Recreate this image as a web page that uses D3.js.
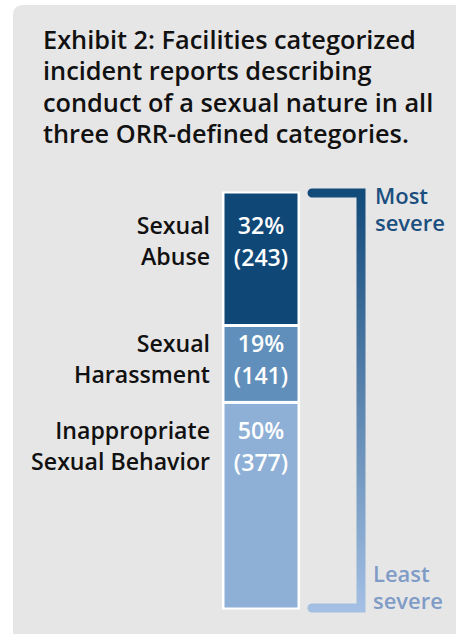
<!DOCTYPE html>
<html><head><meta charset="utf-8">
<script src="https://cdn.jsdelivr.net/npm/d3@7"></script>
<style>
html,body{margin:0;padding:0;background:#fff;}
svg{display:block;}
text{font-family:"Open Sans","Noto Sans",sans-serif;font-weight:600;}
</style></head>
<body>
<svg id="c" width="456" height="634"></svg>
<script>
const titleLines = ["Exhibit 2: Facilities categorized","incident reports describing","conduct of a sexual nature in all","three ORR-defined categories."];
const categories = [["Sexual","Abuse"],["Sexual","Harassment"],["Inappropriate","Sexual Behavior"]];
const percents = ["32%","19%","50%"];
const counts = [243,141,377];
const colors = ["#0f4777","#5f8fba","#8eb0d6"];
const severityTop = ["Most","severe"];
const severityBottom = ["Least","severe"];

const svg = d3.select("#c");
svg.append("path").attr("d","M13,634 L13,15 Q13,5 23,5 L456,5 L456,634 Z").attr("fill","#e7e6e6");

// fit text to a target width
function fit(sel, w){ sel.each(function(){ const l=this.getComputedTextLength(); const fs=+this.getAttribute("font-size"); this.setAttribute("font-size",fs*w/l); }); }

const tt = svg.append("g").selectAll("text").data(titleLines).join("text")
  .attr("x",43).attr("y",(d,i)=>49+i*31.3)
  .attr("font-size",24).attr("fill","#111").text(d=>d);
const titleSize = (function(){ const n=tt.nodes()[0]; return 24*373/n.getComputedTextLength(); })();
tt.attr("font-size",titleSize);

const total = d3.sum(counts);
const y = d3.scaleLinear().domain([0,total]).range([193,608]);
const stacks = [];
let acc=0;
counts.forEach((c,i)=>{stacks.push({i,y0:acc,y1:acc+c});acc+=c;});

const xL=223.5, xR=298.5;
svg.append("rect").attr("x",xL-1.5).attr("y",y(0)-1.5).attr("width",xR-xL+3).attr("height",y(total)-y(0)+3).attr("fill","#fff");
svg.append("g").selectAll("rect").data(stacks).join("rect")
  .attr("x",xL+1).attr("width",xR-xL-2)
  .attr("y",d=>y(d.y0)+(d.i>0?1.5:0.5))
  .attr("height",d=>y(d.y1)-y(d.y0)-(d.i>0?1.5:0.5)-(d.i<2?1.5:0.5))
  .attr("fill",d=>colors[d.i]);

// label size from "Sexual Behavior" width 179
const probe = svg.append("text").attr("font-size",20).text("Sexual Behavior");
const labSize = 20*179/probe.node().getComputedTextLength();
probe.remove();

const labelTop = [227,345,432];
stacks.forEach((s,i)=>{
  const t = labelTop[i];
  svg.append("text").attr("x",261).attr("y",t+7).attr("text-anchor","middle").attr("font-size",labSize).attr("fill","#fff").text(percents[i]);
  svg.append("text").attr("x",261).attr("y",t+39).attr("text-anchor","middle").attr("font-size",labSize).attr("fill","#fff").text("("+counts[i]+")");
  categories[i].forEach((l,j)=>{
    svg.append("text").attr("x",210).attr("y",t+7+j*31).attr("text-anchor","end").attr("font-size",labSize).attr("fill","#111").text(l);
  });
});

const defs = svg.append("defs");
const g = defs.append("linearGradient").attr("id","grad").attr("gradientUnits","userSpaceOnUse")
  .attr("x1",0).attr("y1",y(0)).attr("x2",0).attr("y2",y(total));
g.append("stop").attr("offset","0%").attr("stop-color","#124a7a");
g.append("stop").attr("offset","100%").attr("stop-color","#a3bfe3");
const bx=361;
svg.append("path").attr("d",`M312,${y(0)} L${bx},${y(0)} L${bx},${y(total)} L312,${y(total)}`)
  .attr("fill","none").attr("stroke","url(#grad)").attr("stroke-width",9).attr("stroke-linecap","round").attr("stroke-linejoin","miter");

svg.append("g").selectAll("text").data(severityTop).join("text")
  .attr("x",375).attr("y",(d,i)=>204+i*27).attr("font-size",labSize*0.95).attr("fill","#1b4f80").text(d=>d);
svg.append("g").selectAll("text").data(severityBottom).join("text")
  .attr("x",373).attr("y",(d,i)=>582+i*27).attr("font-size",labSize*0.95).attr("fill","#7f9cc6").text(d=>d);
</script>
</body></html>
